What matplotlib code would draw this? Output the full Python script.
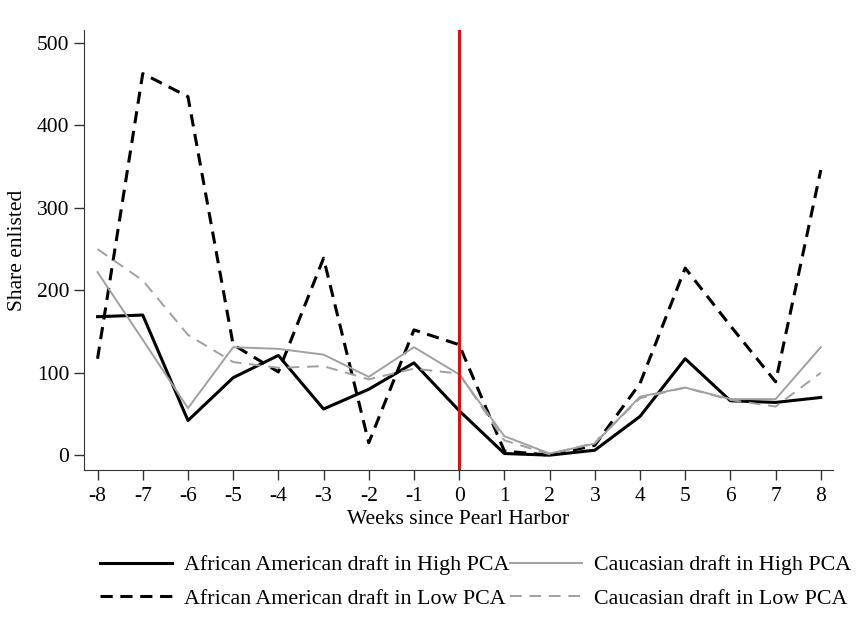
import numpy as np
import matplotlib
matplotlib.use('Agg')
import matplotlib.pyplot as plt

plt.rcParams['font.family'] = ['Liberation Serif', 'DejaVu Serif']
plt.rcParams['axes.unicode_minus'] = False

weeks = list(range(-8, 9))
aa_high = [168, 170, 42, 94, 121, 56, 80, 112, 54, 2, 0, 6, 47, 117, 66, 64, 70]
aa_low = [117, 463, 435, 134, 101, 239, 15, 152, 134, 5, 0, 12, 87, 227, 157, 89, 346]
cc_high = [222, 140, 57, 131, 129, 122, 95, 131, 98, 23, 2, 14, 71, 82, 68, 68, 131]
cc_low = [250, 212, 146, 113, 106, 108, 92, 105, 99, 18, 1, 15, 69, 82, 67, 59, 100]

fig = plt.figure(figsize=(8.57, 6.36), dpi=100)
ax = fig.add_axes([0.098, 0.261, 0.874, 0.692])

l1, = ax.plot(weeks, aa_high, color='black', lw=2.2, label='African American draft in High PCA')
l2, = ax.plot(weeks, aa_low, color='black', lw=2.2, ls=(0, (4, 2.5)), label='African American draft in Low PCA')
l3, = ax.plot(weeks, cc_high, color='#a0a0a0', lw=1.4, label='Caucasian draft in High PCA')
l4, = ax.plot(weeks, cc_low, color='#a0a0a0', lw=1.4, ls=(0, (6, 4)), label='Caucasian draft in Low PCA')
ax.axvline(0, color='red', lw=2.2)

ax.set_xlim(-8.3, 8.27)
ax.set_ylim(-18, 516)
ax.set_xticks(weeks)
ax.set_yticks([0, 100, 200, 300, 400, 500])
ax.tick_params(labelsize=15.5, length=7, width=1, color='#333333')
ax.tick_params(axis='x', pad=5)
for s in ['top', 'right']:
    ax.spines[s].set_visible(False)
for s in ['left', 'bottom']:
    ax.spines[s].set_color('#333333')
ax.set_xlabel('Weeks since Pearl Harbor', fontsize=15.5, labelpad=3)
ax.set_ylabel('Share enlisted', fontsize=15.5, labelpad=7)

fig.legend([l1, l2, l3, l4], [l.get_label() for l in [l1, l2, l3, l4]],
           ncol=2, loc='upper left', bbox_to_anchor=(100 / 857, 1 - 555 / 636),
           frameon=False, fontsize=15.8, handlelength=3.3, handletextpad=0.55,
           columnspacing=0, borderpad=0, borderaxespad=0, labelspacing=0.6)

fig.savefig('out.png', dpi=100)
